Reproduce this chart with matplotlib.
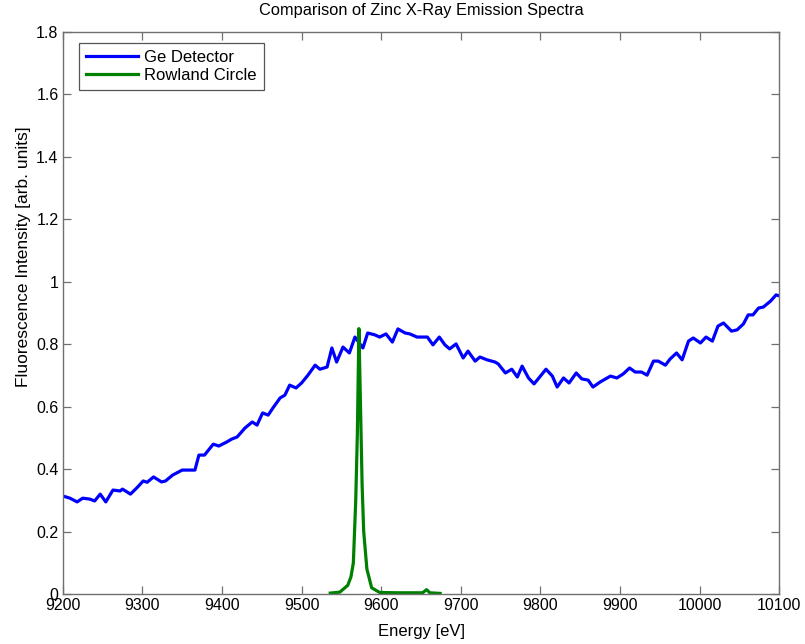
import matplotlib
matplotlib.use("Agg")
import matplotlib.pyplot as plt
from matplotlib.ticker import FuncFormatter

plt.rcParams["font.family"] = ["Liberation Sans", "DejaVu Sans"]

# Ge detector spectrum (energy in eV, intensity in arb. units)
ge_energy = [
    9200, 9209, 9218, 9225, 9234, 9240, 9247, 9254, 9263, 9272, 9275, 9285,
    9293, 9301, 9306, 9314, 9324, 9329, 9338, 9350, 9357, 9366, 9371, 9378,
    9389, 9396, 9406, 9412, 9419, 9429, 9438, 9444, 9451, 9458, 9464, 9473,
    9479, 9485, 9493, 9500, 9508, 9517, 9523, 9532, 9538, 9544, 9552, 9560,
    9567, 9577, 9583, 9592, 9598, 9606, 9614, 9621, 9630, 9636, 9645, 9658,
    9665, 9673, 9680, 9686, 9694, 9703, 9709, 9718, 9724, 9733, 9743, 9747,
    9756, 9764, 9771, 9777, 9785, 9792, 9800, 9807, 9815, 9821, 9829, 9836,
    9845, 9852, 9860, 9866, 9875, 9888, 9896, 9904, 9912, 9919, 9927, 9934,
    9942, 9948, 9957, 9963, 9971, 9978, 9986, 9992, 10001, 10008, 10016,
    10023, 10030, 10040, 10047, 10055, 10061, 10067, 10074, 10080, 10089,
    10096, 10100,
]
ge_intensity = [
    0.314, 0.307, 0.295, 0.307, 0.304, 0.298, 0.320, 0.295, 0.333, 0.330,
    0.336, 0.320, 0.340, 0.362, 0.358, 0.375, 0.359, 0.362, 0.381, 0.397,
    0.397, 0.397, 0.445, 0.445, 0.480, 0.474, 0.487, 0.496, 0.503, 0.532,
    0.551, 0.541, 0.580, 0.573, 0.596, 0.628, 0.637, 0.669, 0.660, 0.676,
    0.701, 0.733, 0.720, 0.727, 0.788, 0.743, 0.791, 0.772, 0.823, 0.788,
    0.836, 0.830, 0.823, 0.833, 0.807, 0.849, 0.836, 0.833, 0.823, 0.823,
    0.798, 0.823, 0.798, 0.785, 0.801, 0.756, 0.778, 0.746, 0.759, 0.750,
    0.743, 0.737, 0.708, 0.720, 0.695, 0.730, 0.692, 0.673, 0.698, 0.720,
    0.698, 0.663, 0.692, 0.676, 0.708, 0.689, 0.685, 0.663, 0.679, 0.698,
    0.692, 0.705, 0.724, 0.711, 0.711, 0.701, 0.746, 0.746, 0.733, 0.753,
    0.772, 0.750, 0.810, 0.820, 0.804, 0.823, 0.810, 0.858, 0.868, 0.842,
    0.846, 0.865, 0.894, 0.894, 0.916, 0.919, 0.938, 0.958, 0.955,
]

# Rowland circle spectrum
rc_energy = [
    9536, 9548, 9558, 9562, 9565, 9568, 9570, 9572, 9574, 9576, 9578, 9582,
    9588, 9598, 9620, 9640, 9652, 9657, 9661, 9674,
]
rc_intensity = [
    0.003, 0.006, 0.028, 0.055, 0.10, 0.30, 0.51, 0.850, 0.60, 0.35, 0.20,
    0.08, 0.02, 0.005, 0.004, 0.004, 0.004, 0.014, 0.004, 0.002,
]

fig = plt.figure(figsize=(8.05, 6.44), dpi=100)
ax = fig.add_axes([0.078, 0.0776, 0.890, 0.8727])

ax.plot(ge_energy, ge_intensity, color="#0000ff", lw=2.3, label="Ge Detector")
ax.plot(rc_energy, rc_intensity, color="#008000", lw=2.3, label="Rowland Circle")

ax.set_xlim(9200, 10100)
ax.set_ylim(0, 1.8)
ax.set_xticks(range(9200, 10101, 100))
ax.set_yticks([i * 0.2 for i in range(10)])
ax.yaxis.set_major_formatter(FuncFormatter(lambda v, p: f"{v:g}"))

axis_grey = "#707070"
for sp in ax.spines.values():
    sp.set_color(axis_grey)
    sp.set_linewidth(1.0)
ax.tick_params(direction="in", length=6, width=0.9, color=axis_grey,
               top=True, right=True, labelsize=11.5, labelcolor="black", pad=3)

ax.set_xlabel("Energy [eV]", fontsize=12, labelpad=8)
ax.set_ylabel("Fluorescence Intensity [arb. units]", fontsize=12.5)
ax.yaxis.set_label_coords(-0.044, 0.60)
ax.set_title("Comparison of Zinc X-Ray Emission Spectra", fontsize=11.8, pad=12)

leg = ax.legend(loc="upper left", bbox_to_anchor=(0.022, 0.981), borderaxespad=0,
                fontsize=12, handlelength=3.1, handletextpad=0.35,
                borderpad=0.45, labelspacing=0.15, fancybox=False, framealpha=1)
leg.get_frame().set_edgecolor("#555555")
leg.get_frame().set_linewidth(0.9)

fig.savefig("out.png", dpi=100)
